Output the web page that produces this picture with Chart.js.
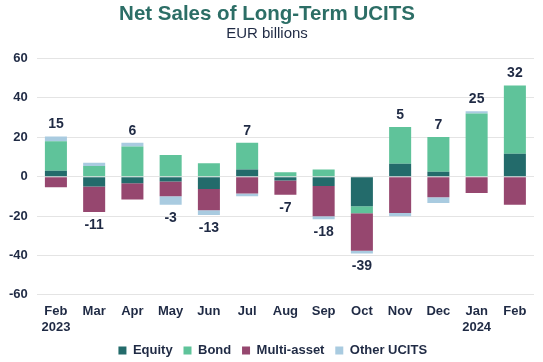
<!DOCTYPE html>
<html>
<head>
<meta charset="utf-8">
<script src="https://cdn.jsdelivr.net/npm/chart.js@4/dist/chart.umd.min.js"></script>
<style>
  html, body { margin: 0; padding: 0; background: #fff; }
  #wrap { width: 543px; height: 362px; }
</style>
</head>
<body>
<div id="wrap"><canvas id="salesChart"></canvas></div>
<script>
var months = [["Feb", "2023"], "Mar", "Apr", "May", "Jun", "Jul", "Aug", "Sep", "Oct", "Nov", "Dec", ["Jan", "2024"], "Feb"];

var equity     = [3.0, -5.0, -3.4, -2.4, -6.3, 3.6, -2.0, -4.8, -15.0, 6.5, 2.5, 0, 11.6];
var bond       = [15.0, 5.4, 15.3, 11.0, 6.8, 13.6, 2.2, 3.6, -3.6, 18.7, 17.6, 32.1, 34.7];
var multiAsset = [-5.4, -13.0, -8.2, -7.5, -10.7, -8.5, -7.2, -15.3, -19.0, -18.5, -10.5, -8.3, -14.3];
var otherUcits = [2.4, 1.6, 1.9, -4.4, -2.5, -1.5, 0, -1.5, -1.4, -1.6, -2.9, 1.1, 0];

var totals = [15, -11, 6, -3, -13, 7, -7, -18, -39, 5, 7, 25, 32];

var yTicks = { min: -60, max: 60, step: 20 };

var ink = '#1f2a44';

// draws the total above / below each stack
var totalLabels = {
  id: 'totalLabels',
  afterDatasetsDraw: function (chart) {
    var ctx = chart.ctx;
    var x = chart.scales.x, y = chart.scales.y;
    var sets = chart.data.datasets;
    ctx.save();
    ctx.font = 'bold 14px "Liberation Sans", Arial, sans-serif';
    ctx.fillStyle = ink;
    ctx.textAlign = 'center';
    ctx.textBaseline = 'alphabetic';
    totals.forEach(function (t, i) {
      var pos = 0, neg = 0;
      sets.forEach(function (d) {
        var v = d.data[i];
        if (v > 0) pos += v; else neg += v;
      });
      var px = x.getPixelForValue(i);
      if (t >= 0) {
        ctx.fillText(t, px, y.getPixelForValue(pos) - 8);
      } else {
        ctx.fillText(t, px, y.getPixelForValue(neg) + 17);
      }
    });
    ctx.restore();
  }
};

Chart.defaults.font.family = '"Liberation Sans", Arial, sans-serif';
Chart.defaults.color = ink;

var ctx = document.getElementById('salesChart').getContext('2d');
new Chart(ctx, {
  type: 'bar',
  data: {
    labels: months,
    datasets: [
      { label: 'Equity', data: equity, backgroundColor: '#236b6b' },
      { label: 'Bond', data: bond, backgroundColor: '#5fc39a' },
      { label: 'Multi-asset', data: multiAsset, backgroundColor: '#96476f' },
      { label: 'Other UCITS', data: otherUcits, backgroundColor: '#a9cbe0' }
    ]
  },
  options: {
    responsive: true,
    maintainAspectRatio: false,
    animation: false,
    layout: { padding: { left: 0, right: 9, top: 4, bottom: -5 } },
    datasets: { bar: { barPercentage: 0.72, categoryPercentage: 0.8 } },
    scales: {
      x: {
        stacked: true,
        grid: { display: false, drawTicks: false },
        border: { display: false },
        ticks: { font: { size: 13, weight: 'bold', lineHeight: 1.2 }, color: ink, padding: 9, maxRotation: 0, autoSkip: false }
      },
      y: {
        stacked: true,
        min: yTicks.min,
        max: yTicks.max,
        ticks: { stepSize: yTicks.step, font: { size: 13, weight: 'bold' }, color: ink, padding: 9 },
        grid: { color: '#e4e4e4', drawTicks: false },
        border: { display: false }
      }
    },
    plugins: {
      title: {
        display: true,
        text: 'Net Sales of Long-Term UCITS',
        color: '#2c6e66',
        font: { size: 20.5, weight: 'bold', lineHeight: 1 },
        padding: { top: 0, bottom: 0 }
      },
      subtitle: {
        display: true,
        text: 'EUR billions',
        color: ink,
        font: { size: 15, lineHeight: 1.2 },
        padding: { top: 0, bottom: 16 }
      },
      legend: {
        position: 'bottom',
        fullSize: false,
        labels: {
          boxWidth: 8, boxHeight: 8, padding: 0, color: ink, font: { size: 13, weight: 'bold' },
          generateLabels: function (chart) {
            var items = Chart.defaults.plugins.legend.labels.generateLabels(chart);
            items.forEach(function (it, i) {
              it.text = it.text + (i < items.length - 1 ? '   ' : '       ');
            });
            return items;
          }
        }
      },
      tooltip: { enabled: false }
    }
  },
  plugins: [totalLabels]
});
</script>
</body>
</html>
